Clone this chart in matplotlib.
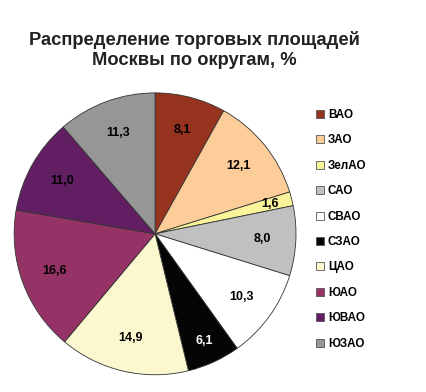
import matplotlib
matplotlib.use("Agg")
import matplotlib.pyplot as plt
from matplotlib.patches import Patch
import numpy as np

plt.rcParams['font.family'] = ['Liberation Sans', 'DejaVu Sans']

districts = ['ВАО', 'ЗАО', 'ЗелАО', 'САО', 'СВАО', 'СЗАО', 'ЦАО', 'ЮАО', 'ЮВАО', 'ЮЗАО']
shares = [8.1, 12.1, 1.6, 8.0, 10.3, 6.1, 14.9, 16.6, 11.0, 11.3]
colors = ['#96331F', '#FCCC99', '#F9F39A', '#C0C0C0', '#FFFFFF',
          '#050505', '#FBF8D0', '#963366', '#621E62', '#969696']

fig = plt.figure(figsize=(4.26, 3.92), dpi=100)
ax = fig.add_axes([0.033, 0.044, 0.662, 0.719])

wedges, _ = ax.pie(shares, colors=colors, startangle=90, counterclock=False,
                   wedgeprops=dict(edgecolor='#333333', linewidth=0.6))

total = sum(shares)
ang = 90.0
for w, v, c in zip(wedges, shares, colors):
    mid = np.deg2rad(ang - v / total * 360 / 2)
    ang -= v / total * 360
    r = 0.76 if v > 7 else 0.84
    tc = 'white' if c == '#050505' else 'black'
    ax.text(r * np.cos(mid), r * np.sin(mid), f'{v:.1f}'.replace('.', ','),
            ha='center', va='center', fontsize=9, fontweight='bold', color=tc)
ax.set_xlim(-1, 1)
ax.set_ylim(-1, 1)

fig.text(0.456, 0.873, 'Распределение торговых площадей\nМосквы по округам, %',
         ha='center', va='center', fontsize=13.2, fontweight='bold',
         color='#222222', linespacing=1.2)

handles = [Patch(facecolor=c, edgecolor='#555555', linewidth=0.6) for c in colors]
fig.legend(handles, districts, loc='upper left', bbox_to_anchor=(0.742, 0.722),
           frameon=False, handlelength=0.68, handleheight=0.68, handletextpad=0.34,
           labelspacing=1.15, borderpad=0, borderaxespad=0,
           prop=dict(size=8.4, weight='bold'))

fig.savefig('out.png', dpi=100)
